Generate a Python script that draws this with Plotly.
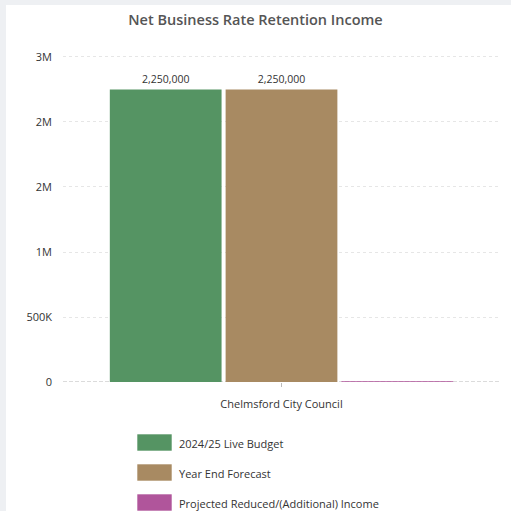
import plotly.graph_objects as go

# Data
category = ["Chelmsford City Council"]
series_names = ["2024/25 Live Budget", "Year End Forecast", "Projected Reduced/(Additional) Income"]
series_values = [[2250000], [2250000], [0]]
series_colors = ["#559463", "#a88a62", "#b0559b"]
tick_vals = [0, 500000, 1000000, 1500000, 2000000, 2500000]
tick_text = ["0", "500K", "1M", "2M", "2M", "3M"]
y_max = 2523000

W, H = 511, 511
L, R, T, B = 63, 11, 54, 129
PW, PH = W - L - R, H - T - B


def px_x(px):
    return (px - L) / PW


def px_y(py):
    return (H - B - py) / PH


def soft(hex_col, a):
    h = hex_col.lstrip("#")
    r, g, b = (int(h[i:i + 2], 16) for i in (0, 2, 4))
    return f"rgba({r},{g},{b},{a})"


fig = go.Figure()
for name, vals, col in zip(series_names, series_values, series_colors):
    show_text = any(v != 0 for v in vals)
    fig.add_trace(go.Bar(
        x=category, y=vals, name=name,
        marker=dict(color=col,
                    line=dict(color=soft(col, 0.75), width=0 if show_text else 2)),
        text=[f"{v:,}" for v in vals] if show_text else None,
        textposition="outside", cliponaxis=False,
        textfont=dict(size=10.5, color="#333333"),
        showlegend=False,
    ))

shapes = []
annotations = []

# white card behind the chart
shapes.append(dict(
    type="rect", xref="paper", yref="paper",
    x0=px_x(6), x1=px_x(530), y0=px_y(530), y1=px_y(5),
    fillcolor="white", line=dict(width=0), layer="below"))

# dashed baseline at zero
shapes.append(dict(
    type="line", xref="paper", yref="y", x0=0, x1=1, y0=0, y1=0,
    line=dict(color="#b8b8b8", width=1.2, dash="4px,2px"), layer="below"))

# legend swatches and labels
for i, (name, col) in enumerate(zip(series_names, series_colors)):
    top = 434 + i * 30
    shapes.append(dict(
        type="rect", xref="paper", yref="paper",
        x0=px_x(137), x1=px_x(172), y0=px_y(top + 17), y1=px_y(top),
        fillcolor=col, line=dict(color="rgba(255,255,255,0.6)", width=1)))
    annotations.append(dict(
        xref="paper", yref="paper", x=px_x(177), y=px_y(top + 9),
        text=name, showarrow=False, xanchor="left", yanchor="middle",
        font=dict(size=11, color="#333333")))

fig.update_layout(
    width=W, height=H,
    margin=dict(l=L, r=R, t=T, b=B),
    paper_bgcolor="#eef0f3", plot_bgcolor="white",
    font=dict(family="Open Sans, sans-serif", color="#333333"),
    title=dict(text="Net Business Rate Retention Income", x=0.5, xanchor="center",
               y=1 - 20 / H, yanchor="middle",
               font=dict(size=14.5, color="#555555", weight=600)),
    barmode="group", bargap=0.205, bargroupgap=0.035,
    shapes=shapes, annotations=annotations,
    xaxis=dict(showgrid=False, ticks="outside", ticklen=4, tickcolor="#bbbbbb",
               showline=False, ticklabelstandoff=8,
               tickfont=dict(size=11, color="#333333")),
    yaxis=dict(range=[0, y_max], tickvals=tick_vals, ticktext=tick_text,
               showgrid=True, gridcolor="#e6e6e6", griddash="3px,3px", gridwidth=1,
               zeroline=False, ticks="", ticklabelstandoff=10,
               tickfont=dict(size=11, color="#333333")),
)

fig.write_html("out.html")
